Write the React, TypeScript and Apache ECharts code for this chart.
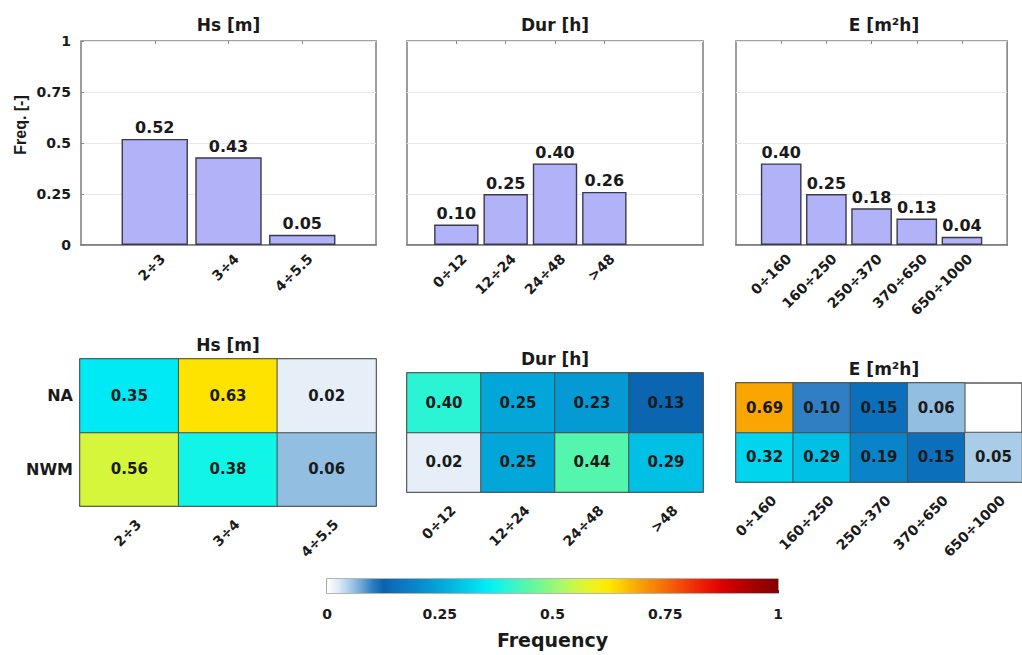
import React, { useEffect, useRef } from "react";
import * as echarts from "echarts";

const FONT = "DejaVu Sans";
const INK = "#1a1a1a";

// Class bins of each variable
const hsCats = ["2÷3", "3÷4", "4÷5.5"];
const durCats = ["0÷12", "12÷24", "24÷48", ">48"];
const eCats = ["0÷160", "160÷250", "250÷370", "370÷650", "650÷1000"];

// Overall frequency of each class
const hsFreq = [0.52, 0.43, 0.05];
const durFreq = [0.1, 0.25, 0.4, 0.26];
const eFreq = [0.4, 0.25, 0.18, 0.13, 0.04];

// Frequency per region (rows listed bottom to top)
const regions = ["NWM", "NA"];
const hsNA = [0.35, 0.63, 0.02];
const hsNWM = [0.56, 0.38, 0.06];
const durNA = [0.4, 0.25, 0.23, 0.13];
const durNWM = [0.02, 0.25, 0.44, 0.29];
const eNA: (number | null)[] = [0.69, 0.1, 0.15, 0.06, null];
const eNWM = [0.32, 0.29, 0.19, 0.15, 0.05];

const freqTicks = [0, 0.25, 0.5, 0.75, 1];

// Colour scale, evenly spaced from 0 to 1
const colormap = [
  "#ffffff", "#e0ebf5", "#a9cce8", "#6fa9d7", "#2f7fc2", "#0b62ad", "#0c6fbb",
  "#0a7cc4", "#0889cb", "#0597d2", "#03a6d9", "#02b6e0", "#01c7e8", "#01d8ef",
  "#00eaf5", "#0af5ec", "#2bf4d5", "#45f5bc", "#5ef7a3", "#78f88e", "#93f87a",
  "#aff866", "#cbf745", "#e3f52c", "#f5f015", "#ffe800", "#fdd000", "#fab500",
  "#f89c05", "#f78408", "#f66c08", "#f45408", "#f23c06", "#ef2404", "#ea1002",
  "#dd0202", "#c80000", "#b50000", "#a20000", "#930000", "#860000",
];

const boldText = (size: number) => ({
  fontFamily: FONT,
  fontWeight: "bold" as const,
  fontSize: size,
  color: INK,
});

// Slanted tick label: the text end sits a little right of the tick
const slantLabel = (margin: number, shift: number) => ({
  interval: 0,
  rotate: 45,
  margin,
  padding: [2 * shift, -shift, 0, 0],
  ...boldText(14),
});

const barPanels = [
  { title: "Hs [m]", cats: hsCats, freq: hsFreq, padAfter: 1, left: 81, width: 295, yLabels: true },
  { title: "Dur [h]", cats: durCats, freq: durFreq, padAfter: 2, left: 407, width: 296, yLabels: false },
  { title: "E [m²h]", cats: eCats, freq: eFreq, padAfter: 1, left: 736, width: 296, yLabels: false },
];

const heatPanels = [
  { title: "Hs [m]", cats: hsCats, na: hsNA, nwm: hsNWM, left: 80, top: 359, height: 147, yLabels: true },
  { title: "Dur [h]", cats: durCats, na: durNA, nwm: durNWM, left: 407, top: 373, height: 119, yLabels: false },
  { title: "E [m²h]", cats: eCats, na: eNA, nwm: eNWM, left: 736, top: 383, height: 99, yLabels: false },
];

function buildOption() {
  const grid: any[] = [];
  const xAxis: any[] = [];
  const yAxis: any[] = [];
  const series: any[] = [];
  const title: any[] = [];

  const barTop = 41;
  const barHeight = 204;

  // Padded category lists so that the bins sit on whole-unit ticks
  const padded = barPanels.map((p) => {
    const blanks = (n: number, s: number) => Array.from({ length: n }, (_, k) => " ".repeat(s + k));
    return [...blanks(1, 1), ...p.cats, ...blanks(p.padAfter, 2)];
  });

  barPanels.forEach((p) => {
    grid.push({
      left: p.left,
      top: barTop,
      width: p.width,
      height: barHeight,
      show: true,
      borderColor: "#858585",
      borderWidth: 1.6,
      backgroundColor: "#ffffff",
    });
    title.push({
      text: p.title,
      left: p.left + p.width / 2,
      top: 16,
      textAlign: "center",
      padding: 0,
      textStyle: boldText(17),
    });
  });

  // bottom category axes of the bar panels
  barPanels.forEach((p, i) => {
    xAxis.push({
      type: "category",
      gridIndex: i,
      data: padded[i],
      boundaryGap: false,
      axisLine: { show: true, lineStyle: { color: "#777777", width: 1.6 } },
      axisTick: { show: false },
      axisLabel: slantLabel(19, 11),
      splitLine: { show: false },
    });
  });
  // top tick marks of the bar panels
  barPanels.forEach((p, i) => {
    xAxis.push({
      type: "category",
      gridIndex: i,
      position: "top",
      data: padded[i],
      boundaryGap: false,
      axisLine: { show: false },
      axisTick: {
        show: true,
        inside: true,
        length: 3,
        interval: (idx: number) => idx > 0 && idx <= p.cats.length,
        lineStyle: { color: "#888888" },
      },
      axisLabel: { show: false },
    });
  });

  barPanels.forEach((p, i) => {
    yAxis.push({
      type: "value",
      gridIndex: i,
      min: 0,
      max: 1,
      interval: 0.25,
      axisLine: { show: false },
      axisTick: { show: p.yLabels, inside: true, length: 3, lineStyle: { color: "#888888" } },
      axisLabel: {
        show: p.yLabels,
        margin: 10,
        formatter: (v: number) => (freqTicks.includes(v) ? String(v) : ""),
        ...boldText(14),
      },
      splitLine: { show: true, lineStyle: { color: "#e8e8e8", width: 1 } },
    });
    series.push({
      type: "bar",
      xAxisIndex: i,
      yAxisIndex: i,
      barWidth: "90%",
      data: [null, ...p.freq, ...Array(p.padAfter).fill(null)],
      itemStyle: { color: "#b2b2f9", borderColor: "#3a3a48", borderWidth: 1.4 },
      label: {
        show: true,
        position: "top",
        distance: 3,
        formatter: (d: any) => (d.value == null ? "" : Number(d.value).toFixed(2)),
        ...boldText(16),
      },
    });
  });

  // Heatmaps by region
  heatPanels.forEach((p) => {
    const g = grid.length;
    grid.push({
      left: p.left,
      top: p.top,
      width: 296,
      height: p.height,
      show: true,
      borderColor: "#5a5a5a",
      borderWidth: 1.5,
      backgroundColor: "#ffffff",
    });
    title.push({
      text: p.title,
      left: p.left + 148,
      top: p.top - 23,
      textAlign: "center",
      padding: 0,
      textStyle: boldText(17),
    });
    const xi = xAxis.length;
    xAxis.push({
      type: "category",
      gridIndex: g,
      data: p.cats,
      axisLine: { show: false },
      axisTick: { show: false },
      axisLabel: slantLabel(25, 13),
      splitArea: { show: false },
    });
    const yi = yAxis.length;
    yAxis.push({
      type: "category",
      gridIndex: g,
      data: regions,
      axisLine: { show: false },
      axisTick: { show: false },
      axisLabel: { show: p.yLabels, margin: 7, ...boldText(16) },
      splitArea: { show: false },
    });
    const cells: any[] = [];
    p.cats.forEach((_, c) => {
      if (p.nwm[c] != null) cells.push([c, 0, p.nwm[c]]);
      if (p.na[c] != null) cells.push([c, 1, p.na[c]]);
    });
    series.push({
      type: "heatmap",
      xAxisIndex: xi,
      yAxisIndex: yi,
      data: cells,
      itemStyle: { borderColor: "#4d4d4d", borderWidth: 1 },
      label: {
        show: true,
        formatter: (d: any) => Number(d.value[2]).toFixed(2),
        ...boldText(15),
      },
    });
  });

  const heatSeries = [3, 4, 5];

  // Colour bar
  const cg = grid.length;
  grid.push({
    left: 327,
    top: 579,
    width: 451,
    height: 14,
    show: true,
    borderColor: "#6a6a6a",
    borderWidth: 1.2,
  });
  const cx = xAxis.length;
  xAxis.push({
    type: "value",
    gridIndex: cg,
    min: 0,
    max: 1,
    interval: 0.25,
    axisLine: { show: false },
    axisTick: { show: true, inside: true, length: 3, lineStyle: { color: "#333333" } },
    splitLine: { show: false },
    axisLabel: { margin: 14, formatter: (v: number) => String(v), ...boldText(14) },
    name: "Frequency",
    nameLocation: "middle",
    nameGap: 37,
    nameTextStyle: boldText(19),
  });
  const cy = yAxis.length;
  yAxis.push({
    type: "value",
    gridIndex: cg,
    min: 0,
    max: 1,
    show: false,
  });
  const stops = colormap.map((c, k) => ({ offset: k / (colormap.length - 1), color: c }));
  series.push({
    type: "custom",
    xAxisIndex: cx,
    yAxisIndex: cy,
    data: [[0, 0]],
    z: 1,
    renderItem: (_params: any, api: any) => {
      const a = api.coord([0, 1]);
      const b = api.coord([1, 0]);
      return {
        type: "rect",
        shape: { x: a[0], y: a[1], width: b[0] - a[0], height: b[1] - a[1] },
        style: { fill: new echarts.graphic.LinearGradient(0, 0, 1, 0, stops) },
      };
    },
  });

  return {
    animation: false,
    backgroundColor: "#ffffff",
    textStyle: { fontFamily: FONT },
    title,
    grid,
    xAxis,
    yAxis,
    visualMap: {
      type: "continuous",
      show: false,
      min: 0,
      max: 1,
      seriesIndex: heatSeries,
      inRange: { color: colormap },
    },
    graphic: [
      {
        type: "text",
        x: 20,
        y: 125,
        rotation: Math.PI / 2,
        style: {
          text: "Freq. [-]",
          align: "center",
          verticalAlign: "middle",
          font: "bold 16px 'Liberation Sans'",
          fill: INK,
        },
      },
    ],
    series,
  };
}

export default function App() {
  const ref = useRef<HTMLDivElement>(null);
  useEffect(() => {
    if (!ref.current) return;
    const chart = echarts.init(ref.current, undefined, { renderer: "svg" });
    chart.setOption(buildOption() as any);
    return () => chart.dispose();
  }, []);
  return (
    <div
      ref={ref}
      style={{ position: "absolute", left: 0, top: 0, width: 1022, height: 655 }}
    />
  );
}
